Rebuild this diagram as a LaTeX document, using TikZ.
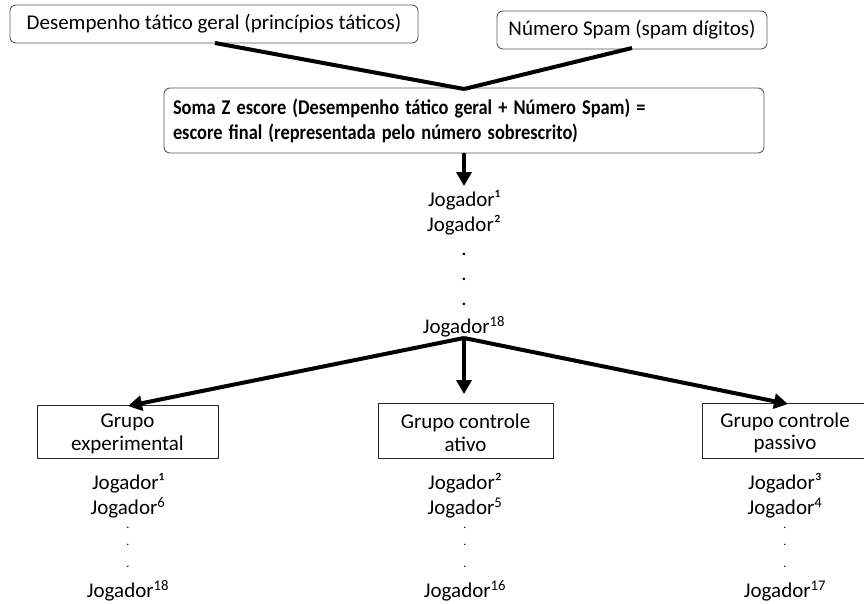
\documentclass[tikz,border=0pt]{standalone}
\usepackage{fontspec}
\setmainfont{Carlito}
\usetikzlibrary{arrows.meta}
% bold lines of the score box, narrowed horizontally
\newcommand{\narrowline}[1]{\scalebox{0.875}[1]{#1}}
\begin{document}
\begin{tikzpicture}[x=1pt,y=-1pt,
  txt/.style={font=\fontsize{21}{25}\selectfont, inner sep=0pt},
  dot/.style={font=\fontsize{12}{14}\selectfont, inner sep=0pt},
  roundbox/.style={draw=black!65, line width=0.9pt, rounded corners=6pt, inner sep=0pt},
  groupbox/.style={draw=black!85, line width=0.9pt, inner sep=0pt},
  grouptext/.style={inner sep=0pt, align=center, font=\fontsize{21}{22.5}\selectfont},
  thick line/.style={line width=4pt},
  bigarrow/.style={line width=4pt, -{Triangle[length=14pt,width=15pt]}}
]
\useasboundingbox (0,0) rectangle (864,603);

% input boxes
\node[roundbox, minimum width=408pt, minimum height=38pt, txt] (perf) at (214,24)
  {Desempenho tático geral (princípios táticos)};
\node[roundbox, minimum width=270pt, minimum height=38pt, txt] (spam) at (632,30)
  {Número Spam (spam dígitos)};

% combined score box
\node[roundbox, minimum width=600pt, minimum height=65pt, align=left,
  font=\bfseries\fontsize{21}{25}\selectfont, text width=582pt, inner xsep=9pt] (sum) at (464,120.5)
  {\narrowline{Soma Z escore (Desempenho tático geral + Número Spam) =}\\
   \narrowline{escore final (representada pelo número sobrescrito)}};

\coordinate (join) at (464,89);
\coordinate (sumout) at (464,153);
\coordinate (listtop) at (464,186);
\coordinate (split) at (464,338);

\draw[thick line] (215,43) -- (join);
\draw[thick line] (632,48) -- (join);
\draw[bigarrow] (sumout) -- (listtop);

% ranked players
\node[txt] (p1) at (464,200) {Jogador¹};
\node[txt] (p2) at (464,225) {Jogador²};
\node[txt] (d1) at (464,254) {.};
\node[txt] (d2) at (464,279) {.};
\node[txt] (d3) at (464,304) {.};
\node[txt] (p18) at (464,327) {Jogador\textsuperscript{18}};

% groups
\node[groupbox, minimum width=181pt, minimum height=53pt] (exp) at (127.5,432) {};
\node[groupbox, minimum width=175pt, minimum height=55pt] (act) at (465.5,431) {};
\node[groupbox, minimum width=166pt, minimum height=55pt] (pas) at (785,431) {};
\node[grouptext] (expt) at ([yshift=-2pt]exp.center) {Grupo\\experimental};
\node[grouptext] (actt) at ([yshift=-2pt]act.center) {Grupo controle\\ativo};
\node[grouptext] (past) at ([yshift=-2pt]pas.center) {Grupo controle\\passivo};

\draw[bigarrow] (split) -- (128,406);
\draw[bigarrow] (split) -- (464,394);
\draw[bigarrow] (split) -- (788,404);

% group members
\foreach \nm/\xx/\a/\b/\c in {e/128/¹/\textsuperscript{6}/18, a/465/²/\textsuperscript{5}/16, p/785/³/\textsuperscript{4}/17}{
  \node[txt] (\nm1) at (\xx,483) {Jogador\a};
  \node[txt] (\nm2) at (\xx,508) {Jogador\b};
  \node[dot] (\nm d1) at (\xx,528) {.};
  \node[dot] (\nm d2) at (\xx,545) {.};
  \node[dot] (\nm d3) at (\xx,567) {.};
  \node[txt] (\nm3) at (\xx,591) {Jogador\textsuperscript{\c}};
}
\end{tikzpicture}
\end{document}
